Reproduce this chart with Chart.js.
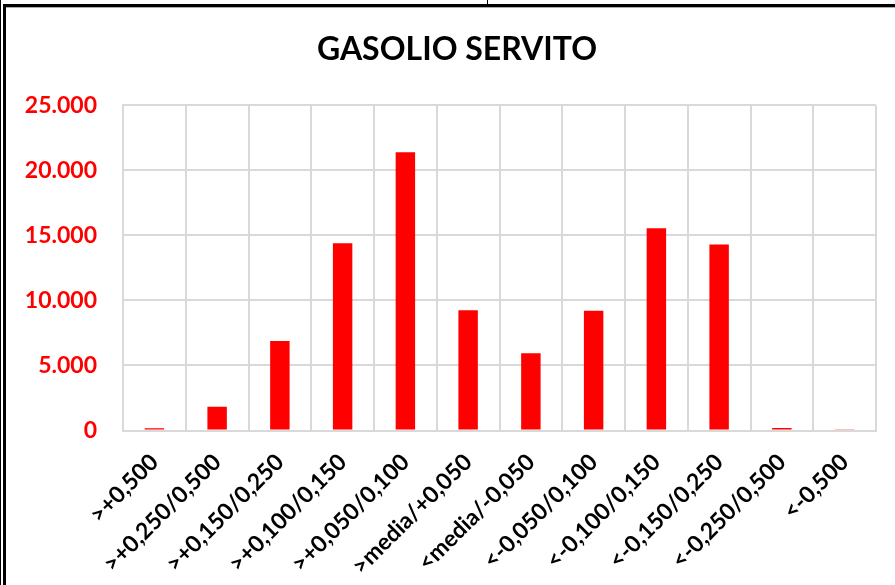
<!DOCTYPE html>
<html>
<head>
<meta charset="utf-8">
<script src="https://cdn.jsdelivr.net/npm/chart.js@4.4.0/dist/chart.umd.min.js"></script>
<style>
  html, body { margin: 0; padding: 0; background: #fff; overflow: hidden; }
  body { width: 895px; height: 585px; position: relative; }
  .ln { position: absolute; background: #000; }
  #wrap { position: absolute; left: 7px; top: 8px; width: 900px; height: 577px; }
</style>
</head>
<body>
<div class="ln" style="left:0;top:0;width:1px;height:585px"></div>
<div class="ln" style="left:3px;top:4px;width:3px;height:581px"></div>
<div class="ln" style="left:3px;top:4px;width:892px;height:3px"></div>
<div class="ln" style="left:6px;top:7px;width:889px;height:1px;background:#aaa"></div>
<div class="ln" style="left:487px;top:0;width:1px;height:4px"></div>
<div id="wrap"><canvas id="chart" width="900" height="577"></canvas></div>
<script>
// --- data ---
const categories = ['>+0,500', '>+0,250/0,500', '>+0,150/0,250', '>+0,100/0,150', '>+0,050/0,100',
    '>media/+0,050', '<media/-0,050', '<-0,050/0,100', '<-0,100/0,150', '<-0,150/0,250',
    '<-0,250/0,500', '<-0,500'];
const servito = [180, 1820, 6880, 14400, 21400, 9250, 5950, 9200, 15550, 14300, 200, 60];
const yTicks = [0, 5000, 10000, 15000, 20000, 25000];

const FONT = 'Lato, "Open Sans", sans-serif';

function fmt(v) {
    return String(v).replace(/\B(?=(\d{3})+(?!\d))/g, '.');
}

const ctx = document.getElementById('chart').getContext('2d');

new Chart(ctx, {
    type: 'bar',
    data: {
        labels: categories,
        datasets: [{
            data: servito,
            backgroundColor: '#FF0000',
            borderWidth: 0,
            categoryPercentage: 1,
            barPercentage: 0.31
        }]
    },
    options: {
        responsive: false,
        animation: false,
        layout: { padding: 0 },
        plugins: {
            legend: { display: false },
            tooltip: { enabled: false },
            title: {
                display: true,
                text: 'GASOLIO SERVITO',
                color: '#000',
                font: { family: FONT, size: 32, weight: 'bold', lineHeight: 1.2 },
                padding: { top: 22, bottom: 37 }
            }
        },
        scales: {
            x: {
                afterFit: (scale) => { scale.height = 154.5; },
                grid: { color: '#D9D9D9', lineWidth: 2, drawTicks: false, offset: true },
                border: { color: '#D9D9D9', width: 2 },
                ticks: {
                    color: '#000',
                    autoSkip: false,
                    minRotation: 45,
                    maxRotation: 45,
                    padding: 18,
                    font: { family: FONT, size: 23, weight: 'bold' }
                }
            },
            y: {
                min: 0,
                max: 25000,
                afterFit: (scale) => { scale.width = 116; },
                afterBuildTicks: (scale) => { scale.ticks = yTicks.map(v => ({ value: v })); },
                grid: { color: '#D9D9D9', lineWidth: 2, drawTicks: false },
                border: { color: '#D9D9D9', width: 2 },
                ticks: {
                    color: '#FF0000',
                    padding: 26,
                    font: { family: FONT, size: 23, weight: 'bold' },
                    callback: (v) => fmt(v)
                }
            },
            // empty spacer on the right so the title stays centred on the frame
            spacer: {
                type: 'linear',
                position: 'right',
                afterFit: (scale) => { scale.width = 31; },
                grid: { display: false },
                border: { display: false },
                ticks: { display: false }
            }
        }
    }
});
</script>
</body>
</html>
